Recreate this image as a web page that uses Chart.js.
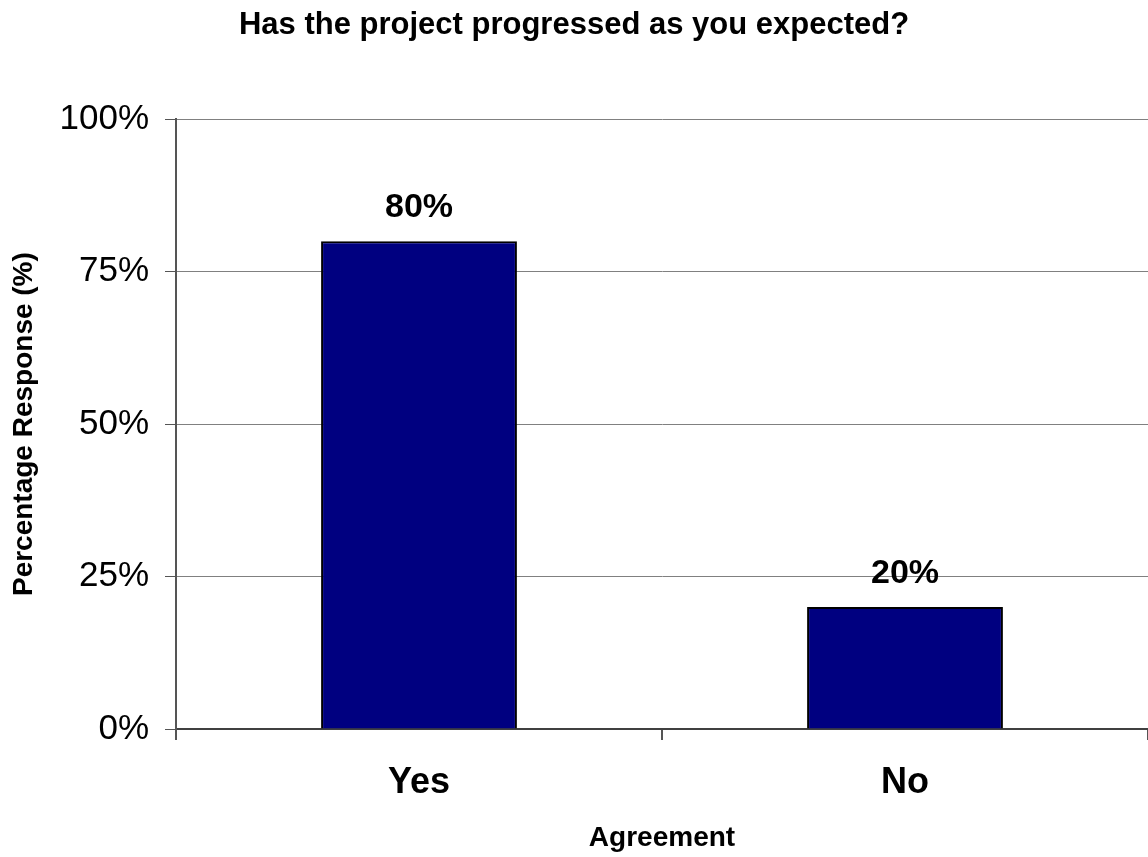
<!DOCTYPE html>
<html>
<head>
<meta charset="utf-8">
<title>Has the project progressed as you expected?</title>
<script src="https://cdn.jsdelivr.net/npm/chart.js@4"></script>
<style>
    html, body { margin: 0; padding: 0; background: #ffffff; }
    #chartBox { width: 1148px; height: 857px; }
</style>
</head>
<body>
<div id="chartBox"><canvas id="agreementChart" width="1148" height="857"></canvas></div>
<script>
// --- DATA ---
const categories = ['Yes', 'No'];
const responsePercent = [80, 20];
const yTickValues = [0, 25, 50, 75, 100];

const FONT = "'Liberation Sans', Arial, Helvetica, sans-serif";

// Ghi nhãn % phía trên mỗi cột
const barValueLabels = {
    id: 'barValueLabels',
    afterDatasetsDraw(chart) {
        const ctx = chart.ctx;
        const meta = chart.getDatasetMeta(0);
        ctx.save();
        ctx.font = 'bold 34px ' + FONT;
        ctx.fillStyle = '#000000';
        ctx.textAlign = 'center';
        ctx.textBaseline = 'alphabetic';
        meta.data.forEach((bar, i) => {
            const value = chart.data.datasets[0].data[i];
            ctx.fillText(value + '%', bar.x, bar.y - 24);
        });
        ctx.restore();
    }
};

function initAgreementChart() {
    const ctx = document.getElementById('agreementChart').getContext('2d');

    new Chart(ctx, {
        type: 'bar',
        data: {
            labels: categories,
            datasets: [{
                label: 'Percentage Response (%)',
                data: responsePercent,
                backgroundColor: '#000080',
                borderColor: '#000000',
                borderWidth: 2,
                borderSkipped: 'bottom',
                categoryPercentage: 1.0,
                barPercentage: 0.403
            }]
        },
        options: {
            responsive: false,
            animation: false,
            devicePixelRatio: 1,
            layout: { padding: 0 },
            plugins: {
                legend: { display: false },
                tooltip: { enabled: false },
                title: {
                    display: true,
                    text: 'Has the project progressed as you expected?',
                    color: '#000000',
                    font: { family: FONT, size: 31, weight: 'bold', lineHeight: 1.2 },
                    padding: { top: 7, bottom: 75 }
                }
            },
            scales: {
                x: {
                    afterFit: function(scale) { scale.height = 128; },
                    offset: true,
                    grid: {
                        offset: true,
                        drawOnChartArea: false,
                        drawTicks: true,
                        tickLength: 11,
                        tickColor: '#555555',
                        lineWidth: 2
                    },
                    border: { display: true, color: '#404040', width: 2 },
                    ticks: {
                        color: '#000000',
                        padding: 21,
                        font: { family: FONT, size: 36, weight: 'bold', lineHeight: 1.2 }
                    },
                    title: {
                        display: true,
                        text: 'Agreement',
                        color: '#000000',
                        font: { family: FONT, size: 28, weight: 'bold', lineHeight: 1.2 },
                        padding: { top: 0, bottom: 2 }
                    }
                },
                y: {
                    afterFit: function(scale) { scale.width = 176; },
                    min: 0,
                    max: 100,
                    afterBuildTicks: function(scale) {
                        scale.ticks = yTickValues.map(v => ({ value: v }));
                    },
                    grid: {
                        color: '#808080',
                        lineWidth: 1,
                        drawTicks: true,
                        tickLength: 11,
                        tickColor: '#555555'
                    },
                    border: { display: true, color: '#555555', width: 2 },
                    ticks: {
                        color: '#000000',
                        padding: 16,
                        font: { family: FONT, size: 35, lineHeight: 1.2 },
                        callback: function(value) { return value + '%'; }
                    },
                    title: {
                        display: true,
                        text: 'Percentage Response (%)',
                        color: '#000000',
                        font: { family: FONT, size: 28, weight: 'bold', lineHeight: 1.2 },
                        padding: { top: 7, bottom: 0 }
                    }
                }
            }
        },
        plugins: [barValueLabels]
    });
}

initAgreementChart();
</script>
</body>
</html>
